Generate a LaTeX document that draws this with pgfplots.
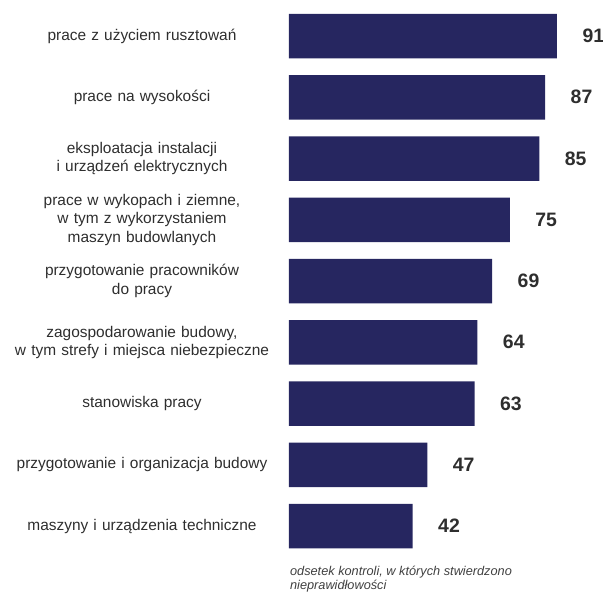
\documentclass[border=0pt]{standalone}
\usepackage{pgfplots}
\pgfplotsset{compat=1.18}
\usepackage{fontspec}
\setmainfont{Liberation Sans}
\definecolor{barc}{HTML}{262660}
\definecolor{txt}{HTML}{2E2E2E}
\begin{document}
\begin{tikzpicture}
\begin{axis}[
  name=ax,
  scale only axis,
  width=294.5bp, height=551.25bp,
  xmin=0, xmax=100,
  ymin=-0.5, ymax=8.5,
  y dir=reverse,
  axis line style={draw=none},
  tick style={draw=none},
  xtick=\empty,
  ytick={0,1,2,3,4,5,6,7,8},
  yticklabels={{prace z użyciem rusztowań},{prace na wysokości},{eksploatacja instalacji\\i urządzeń elektrycznych},{prace w wykopach i ziemne,\\w tym z wykorzystaniem\\maszyn budowlanych},{przygotowanie pracowników\\do pracy},{zagospodarowanie budowy,\\w tym strefy i miejsca niebezpieczne},{stanowiska pracy},{przygotowanie i organizacja budowy},{maszyny i urządzenia techniczne}},
  yticklabel style={text width=285bp, align=center, anchor=center, xshift=-147bp, font=\fontsize{15.5}{18.5}\selectfont, text=txt, inner sep=0pt},
  clip=false,
  nodes near coords,
  point meta=x,
  /pgf/number format/assume math mode=true,
  nodes near coords style={anchor=west, xshift=22bp, font=\fontsize{19.5}{20}\selectfont\bfseries, text=txt},
]
\addplot[xbar, fill=barc, draw=none, bar width=44.5bp] coordinates {
(91,0) (87,1) (85,2) (75,3) (69,4) (64,5) (63,6) (47,7) (42,8)};
\node[anchor=north west, inner sep=0pt, align=left, font=\fontsize{12.8}{14.5}\selectfont\itshape, text=black!75] at (axis cs:0.3,8.65) {odsetek kontroli, w których stwierdzono\\nieprawidłowości};
\end{axis}
\pgfresetboundingbox
\path[use as bounding box] ([xshift=-289bp,yshift=-35.4bp]ax.south west) rectangle ([xshift=19.5bp,yshift=5.4bp]ax.north east);
\end{tikzpicture}
\end{document}
